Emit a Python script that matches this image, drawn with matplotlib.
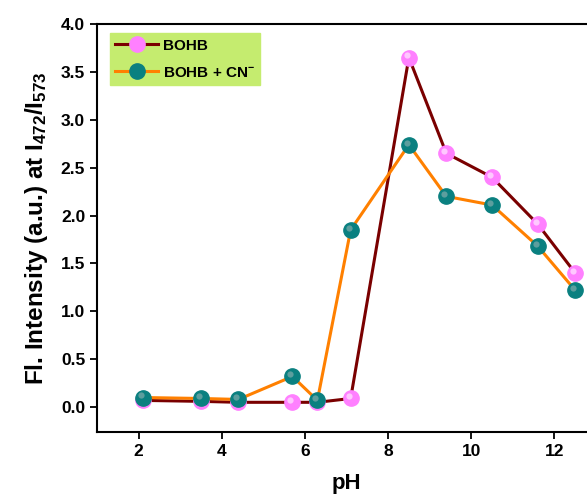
import matplotlib
matplotlib.use("Agg")
import matplotlib.pyplot as plt
from matplotlib.transforms import offset_copy

ph = [2.1, 3.5, 4.4, 5.7, 6.3, 7.1, 8.5, 9.4, 10.5, 11.6, 12.5]
bohb = [0.07, 0.06, 0.05, 0.05, 0.05, 0.09, 3.65, 2.65, 2.40, 1.91, 1.40]
bohb_cn = [0.10, 0.09, 0.08, 0.32, 0.07, 1.85, 2.74, 2.20, 2.11, 1.68, 1.22]
xticks = [2, 4, 6, 8, 10, 12]
yticks = [0.0, 0.5, 1.0, 1.5, 2.0, 2.5, 3.0, 3.5, 4.0]

plt.rcParams['font.family'] = ['Liberation Sans', 'DejaVu Sans']
plt.rcParams['font.weight'] = 'bold'

fig = plt.figure(figsize=(5.87, 4.98), dpi=100)
ax = fig.add_axes([97/587, 1-432/498, (596-97)/587, (432-24)/498])

l1, = ax.plot(ph, bohb, color='#7a0000', lw=2.2, marker='o', ms=11,
              mfc='#ff80ff', mec='#ff80ff', label='BOHB', zorder=3)
l2, = ax.plot(ph, bohb_cn, color='#ff8000', lw=2.2, marker='o', ms=11,
              mfc='#0a8080', mec='#0a8080', label='BOHB + CN$\\mathregular{^{-}}$', zorder=4)
# sphere highlights (offset up-left)
hl = offset_copy(ax.transData, fig=fig, x=-1.5, y=1.5, units='points')
ax.plot(ph, bohb, ls='none', marker='o', ms=4.5, mfc='#ffc8ff', mec='none', zorder=3.5, transform=hl)
ax.plot(ph, bohb_cn, ls='none', marker='o', ms=4.5, mfc='#5c9e9e', mec='none', zorder=4.5, transform=hl)

ax.set_xlim(1, 13)
ax.set_ylim(-0.26, 4.0)
ax.set_xticks(xticks)
ax.set_yticks(yticks)
ax.set_yticklabels([f"{v:.1f}" for v in yticks])
ax.tick_params(direction='out', length=5, width=1.3, labelsize=12.5)
for lab in ax.get_xticklabels() + ax.get_yticklabels():
    lab.set_fontweight('bold')
for s in ax.spines.values():
    s.set_linewidth(1.5)

ax.set_xlabel('pH', fontsize=16, fontweight='bold', labelpad=10)
ax.set_ylabel('Fl. Intensity (a.u.) at I$\\mathregular{_{472}}$/I$\\mathregular{_{573}}$',
              fontsize=17.5, fontweight='bold', labelpad=8)

leg = ax.legend(handles=[l1, l2], loc='upper left', bbox_to_anchor=(0.02, 0.985),
                frameon=True, fancybox=False, fontsize=11, handlelength=2.8,
                borderpad=0.35, labelspacing=0.85, handletextpad=0.3, borderaxespad=0.2)
leg.get_frame().set_facecolor('#c5ec6f')
leg.get_frame().set_edgecolor('#c5ec6f')
leg.get_frame().set_alpha(1)
for t in leg.get_texts():
    t.set_fontweight('bold')

fig.savefig('out.png', dpi=100)
